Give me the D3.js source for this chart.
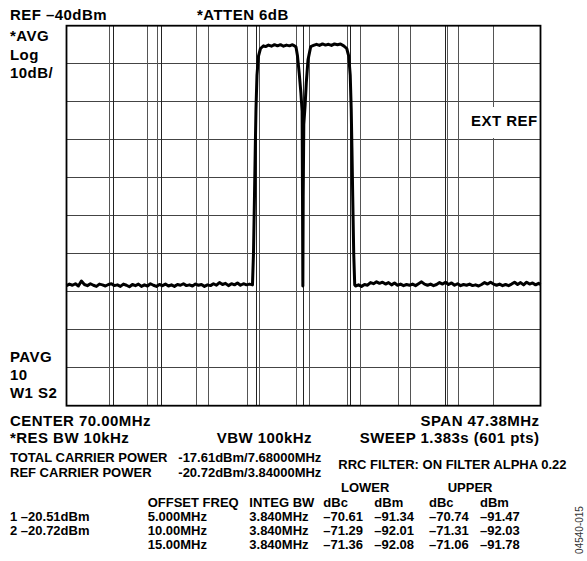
<!DOCTYPE html>
<html><head><meta charset="utf-8">
<script src="https://cdn.jsdelivr.net/npm/d3@7"></script>
<style>
body{margin:0;background:#fff}
svg{display:block}
text{font-family:"Liberation Sans",Arial,Helvetica,sans-serif;font-weight:bold;fill:#000}
.big{font-size:15px;letter-spacing:0.45px}
.small{font-size:13px}
</style>
</head><body>
<svg id="chart" width="587" height="561"></svg>
<script>
// ---------- data ----------
const freqDomain = [46.31, 93.69];          // MHz (center 70.00, span 47.38)
const levelDomain = [-140, -40];            // dBm (ref -40, 10 dB/div)
const gridFreq = [46.31, 51.048, 55.786, 60.524, 65.262, 70.0, 74.738, 79.476, 84.214, 88.952, 93.69];
const gridLevel = [-40, -50, -60, -70, -80, -90, -100, -110, -120, -130, -140];
const markerFreq = [50.61, 54.44, 55.44, 59.27, 60.50, 64.43, 65.60, 69.33, 70.60, 74.43, 75.67, 79.50, 80.67, 84.42, 85.52, 88.99];

const trace = [
 [46.31,-108.4],[46.6,-108.0],[46.9,-108.3],[47.2,-107.9],[47.5,-108.5],[47.8,-107.2],[48.1,-108.1],[48.4,-108.4],
 [48.7,-107.9],[49.0,-108.3],[49.3,-108.6],[49.6,-108.0],[49.9,-108.2],[50.2,-108.5],[50.5,-108.1],[50.8,-107.9],
 [51.1,-108.4],[51.4,-108.2],[51.7,-108.6],[52.0,-108.0],[52.3,-108.3],[52.6,-108.7],[52.9,-108.1],[53.2,-108.4],
 [53.5,-108.0],[53.8,-108.6],[54.1,-108.2],[54.4,-108.5],[54.7,-107.9],[55.0,-108.3],[55.3,-108.6],[55.6,-108.1],
 [55.9,-108.4],[56.2,-108.0],[56.5,-108.5],[56.8,-108.2],[57.1,-108.6],[57.4,-108.1],[57.7,-108.3],[58.0,-107.9],
 [58.3,-108.4],[58.6,-108.2],[58.9,-108.5],[59.2,-108.0],[59.5,-108.3],[59.8,-108.1],[60.1,-108.6],[60.4,-108.2],
 [60.7,-108.4],[61.0,-107.9],[61.3,-108.3],[61.6,-107.6],[61.9,-108.1],[62.2,-107.8],[62.5,-108.4],[62.8,-107.9],
 [63.1,-108.2],[63.4,-107.7],[63.7,-108.3],[64.0,-107.9],[64.3,-108.2],[64.6,-108.0],[64.9,-108.2],
 [65.0,-100],[65.1,-85],[65.18,-72],[65.25,-62],[65.35,-53],[65.5,-48],[65.7,-46],[66.0,-45.3],
 [66.2,-45.5],[66.5,-45.1],[66.8,-45.4],[67.1,-45.0],[67.4,-45.3],[67.7,-45.0],[68.0,-45.4],[68.3,-45.1],
 [68.6,-45.3],[68.9,-45.0],[69.1,-45.3],[69.25,-45.6],
 [69.40,-48],[69.57,-52.5],[69.74,-57.7],[69.86,-62.5],[69.9,-85],[69.935,-108.5],[69.97,-85],[70.03,-66],
 [70.16,-61],[70.28,-55],[70.45,-49],[70.72,-45.5],
 [71.0,-45.2],[71.3,-44.9],[71.6,-45.2],[71.9,-44.8],[72.2,-45.1],[72.5,-44.9],[72.8,-45.2],[73.1,-44.8],
 [73.4,-45.0],[73.7,-44.8],[74.02,-45.3],
 [74.32,-46],[74.52,-48],[74.67,-53],[74.77,-62],[74.84,-72],[74.92,-85],[75.02,-100],[75.12,-108.2],
 [75.2,-108.5],[75.5,-108.2],[75.8,-108.6],[76.1,-108.1],[76.4,-108.3],[76.7,-107.6],[77.0,-107.9],[77.3,-107.4],
 [77.6,-107.8],[77.9,-107.5],[78.2,-108.0],[78.5,-107.6],[78.8,-108.2],[79.1,-107.7],[79.4,-108.3],[79.7,-108.0],
 [80.0,-108.4],[80.3,-108.1],[80.6,-108.3],[80.9,-108.0],[81.2,-108.4],[81.5,-107.9],[81.8,-107.4],[82.1,-108.0],
 [82.4,-108.3],[82.7,-108.0],[83.0,-108.4],[83.3,-108.1],[83.6,-107.6],[83.9,-108.0],[84.2,-107.5],[84.5,-108.1],
 [84.8,-107.7],[85.1,-108.3],[85.4,-107.9],[85.7,-108.4],[86.0,-108.1],[86.3,-108.3],[86.6,-108.0],[86.9,-108.4],
 [87.2,-108.2],[87.5,-108.5],[87.8,-108.1],[88.1,-107.6],[88.4,-108.0],[88.7,-107.5],[89.0,-108.0],[89.3,-108.3],
 [89.6,-108.0],[89.9,-108.4],[90.2,-108.1],[90.5,-108.4],[90.8,-108.0],[91.1,-107.5],[91.4,-108.1],[91.7,-107.6],
 [92.0,-108.2],[92.3,-107.5],[92.6,-108.0],[92.9,-107.7],[93.2,-108.2],[93.5,-107.8],[93.69,-108.1]
];

const topLine = ["REF –40dBm", "*ATTEN 6dB"];
const topLeftLabels = ["*AVG", "Log", "10dB/"];
const bottomLeftLabels = ["PAVG", "10", "W1 S2"];
const extRefLabel = "EXT REF";
const settingsLeft = ["CENTER 70.00MHz", "*RES BW 10kHz"];
const settingsMid = "VBW 100kHz";
const settingsRight = ["SPAN 47.38MHz", "SWEEP 1.383s (601 pts)"];
const carrierNames = ["TOTAL CARRIER POWER", "REF CARRIER POWER"];
const carrierValues = ["-17.61dBm/7.68000MHz", "-20.72dBm/3.84000MHz"];
const filterLabel = "RRC FILTER: ON FILTER ALPHA 0.22";
const groupHeads = ["LOWER", "UPPER"];
const colHeads = ["OFFSET FREQ", "INTEG BW", "dBc", "dBm", "dBc", "dBm"];
const markerReadouts = ["1 –20.51dBm", "2 –20.72dBm"];
const offsetFreq = ["5.000MHz", "10.00MHz", "15.00MHz"];
const integBw = ["3.840MHz", "3.840MHz", "3.840MHz"];
const lowerDbc = ["–70.61", "–71.29", "–71.36"];
const lowerDbm = ["–91.34", "–92.01", "–92.08"];
const upperDbc = ["–70.74", "–71.31", "–71.06"];
const upperDbm = ["–91.47", "–92.03", "–91.78"];
const figureId = "04540-015";

// ---------- drawing ----------
const svg = d3.select("#chart");
const plot = {left: 66.5, right: 540.5, top: 25.7, bottom: 405.7};
const x = d3.scaleLinear().domain(freqDomain).range([plot.left, plot.right]);
const y = d3.scaleLinear().domain(levelDomain).range([plot.bottom, plot.top]);
const crisp = v => Math.round(v - 0.5) + 0.5;

const g = svg.append("g");
g.selectAll("line.h").data(gridLevel).join("line")
  .attr("x1", plot.left).attr("x2", plot.right)
  .attr("y1", d => crisp(y(d))).attr("y2", d => crisp(y(d)))
  .attr("stroke", "#444").attr("stroke-width", 1);
g.selectAll("line.v").data(gridFreq).join("line")
  .attr("x1", d => crisp(x(d))).attr("x2", d => crisp(x(d)))
  .attr("y1", plot.top).attr("y2", plot.bottom)
  .attr("stroke", "#222").attr("stroke-width", 1);
g.selectAll("line.m").data(markerFreq).join("line")
  .attr("x1", d => crisp(x(d))).attr("x2", d => crisp(x(d)))
  .attr("y1", plot.top).attr("y2", plot.bottom)
  .attr("stroke", "#555").attr("stroke-width", 1);

// EXT REF label box
g.append("rect").attr("x", 464).attr("y", 107).attr("width", 76).attr("height", 31).attr("fill", "#fff");
g.append("text").attr("class", "big").attr("x", 471).attr("y", 126).text(extRefLabel);

// trace
const line = d3.line().x(d => x(d[0])).y(d => y(d[1]));
g.append("path").datum(trace).attr("d", line)
  .attr("fill", "none").attr("stroke", "#000").attr("stroke-width", 3)
  .attr("stroke-linejoin", "round").attr("stroke-linecap", "butt");

// frame
g.append("rect").attr("x", plot.left).attr("y", plot.top)
  .attr("width", plot.right - plot.left).attr("height", plot.bottom - plot.top)
  .attr("fill", "none").attr("stroke", "#000").attr("stroke-width", 1.8);

// texts
const T = (cls, xx, yy, s, anchor) => svg.append("text").attr("class", cls)
  .attr("x", xx).attr("y", yy).attr("text-anchor", anchor || "start").text(s);

T("big", 10, 20, topLine[0]);
T("big", 197, 20, topLine[1]);
[41.3, 59.7, 78].forEach((yy, i) => T("big", 10, yy, topLeftLabels[i]));
[361.8, 380, 398.2].forEach((yy, i) => T("big", 10, yy, bottomLeftLabels[i]));
T("big", 10, 426, settingsLeft[0]);
T("big", 10, 443.3, settingsLeft[1]);
T("big", 216.7, 443.3, settingsMid);
T("big", 539.5, 426, settingsRight[0], "end");
T("big", 539.5, 443.3, settingsRight[1], "end");

T("small", 10, 462, carrierNames[0]);
T("small", 178.3, 462, carrierValues[0]);
T("small", 10, 477, carrierNames[1]);
T("small", 178.3, 477, carrierValues[1]);
T("small", 338.3, 469, filterLabel);

T("small", 341, 491.5, groupHeads[0]);
T("small", 447.7, 491.5, groupHeads[1]);
const colX = [147.7, 249.3, 323.3, 374.3, 429, 480];
colHeads.forEach((s, i) => T("small", colX[i], 506.5, s));
const rowY = [520.5, 534.8, 549];
markerReadouts.forEach((s, i) => T("small", 10, rowY[i], s));
const cols = [offsetFreq, integBw, lowerDbc, lowerDbm, upperDbc, upperDbm];
cols.forEach((arr, c) => arr.forEach((s, r) => T("small", colX[c], rowY[r], s)));

svg.append("text").attr("transform", "translate(583,530) rotate(-90)")
  .attr("text-anchor", "middle").style("font-size", "10px").style("font-weight", "normal")
  .style("fill", "#333").text(figureId);
</script>
</body></html>
